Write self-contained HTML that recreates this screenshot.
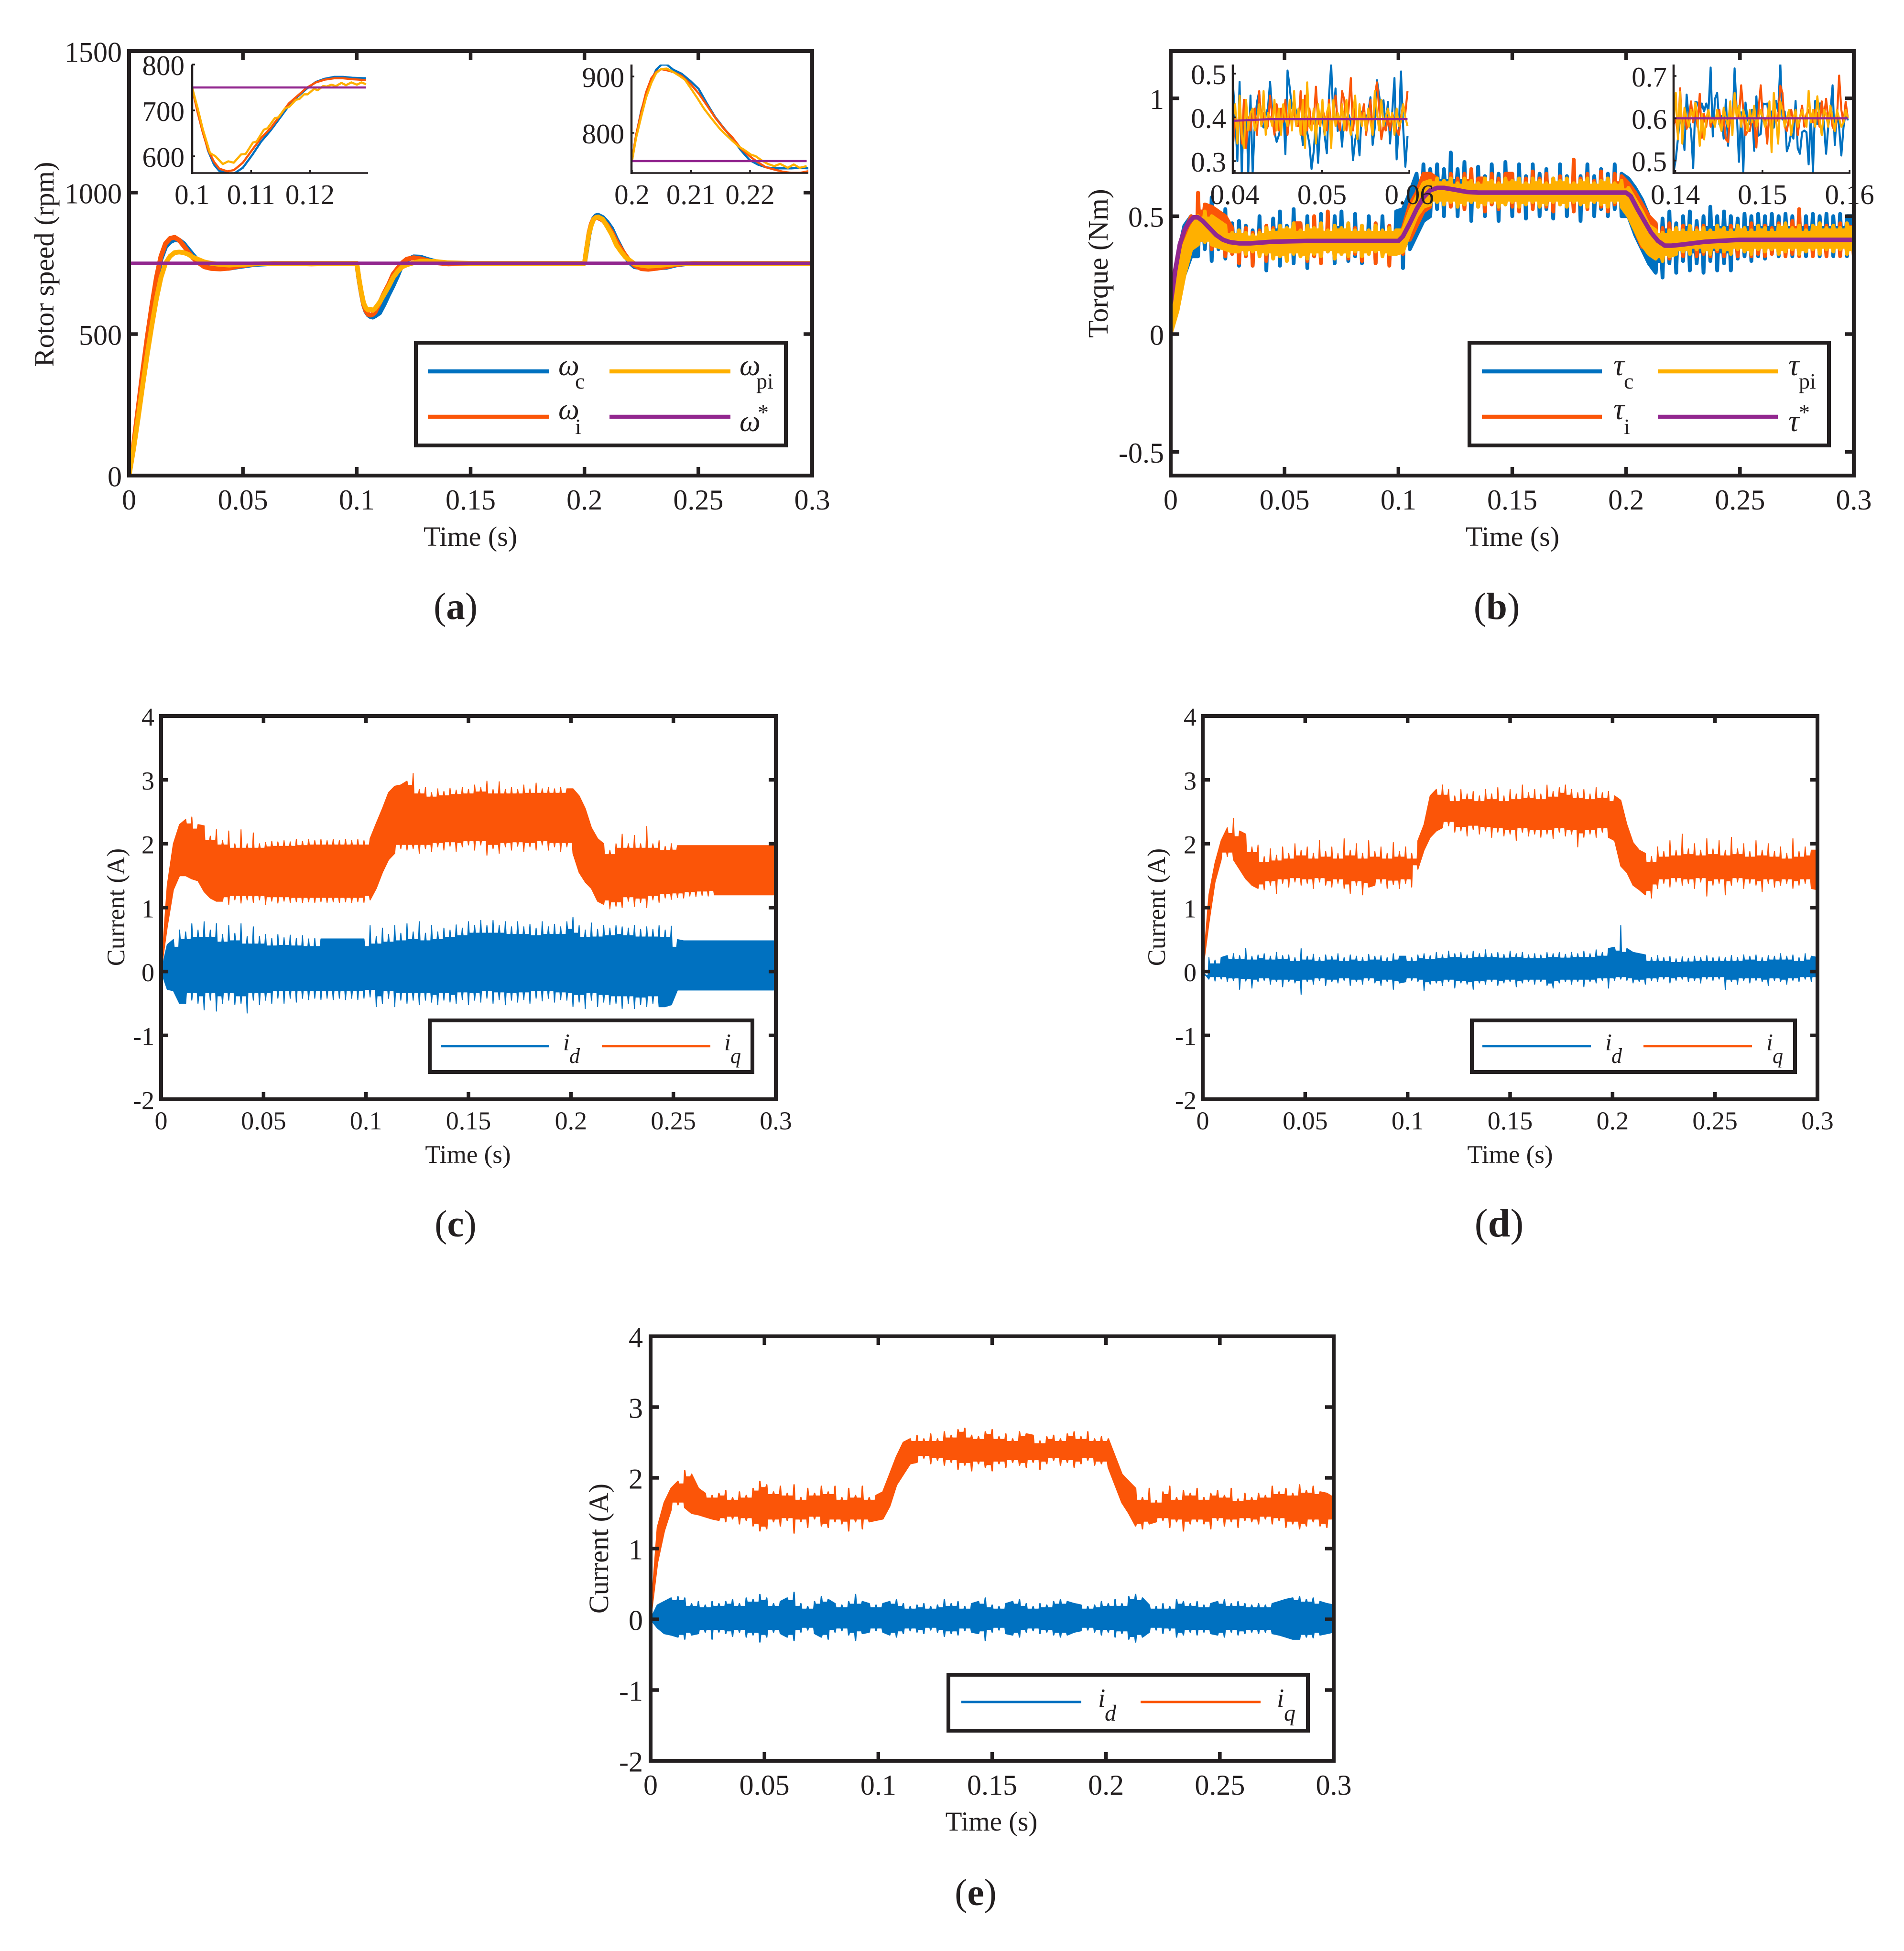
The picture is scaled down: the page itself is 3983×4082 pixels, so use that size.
<!DOCTYPE html>
<html lang="en">
<head>
<meta charset="utf-8">
<title>Motor control response charts</title>
<style>
html,body{margin:0;padding:0;background:#fff;}
svg{display:block;}
text{font-family:"Liberation Serif","Times New Roman",serif;fill:#231F20;}
</style>
</head>
<body>
<svg id="figure" width="3983" height="4082" viewBox="0 0 3983 4082">
<rect x="0" y="0" width="3983" height="4082" fill="#ffffff"/>
<defs>
<clipPath id="clip-a"><rect x="270" y="107" width="1429" height="888"/></clipPath>
<clipPath id="clip-b"><rect x="2449" y="107" width="1429" height="888"/></clipPath>
<clipPath id="clip-c"><rect x="337" y="1498" width="1286" height="802"/></clipPath>
<clipPath id="clip-d"><rect x="2516" y="1498" width="1286" height="802"/></clipPath>
<clipPath id="clip-e"><rect x="1361" y="2796" width="1429" height="888"/></clipPath>
<clipPath id="clip-a1"><rect x="402" y="135" width="368" height="227"/></clipPath>
<clipPath id="clip-a2"><rect x="1321" y="135" width="370" height="227"/></clipPath>
<clipPath id="clip-b1"><rect x="2579" y="135" width="370" height="227"/></clipPath>
<clipPath id="clip-b2"><rect x="3501" y="135" width="370" height="227"/></clipPath>
</defs>

<g id="panel-a"></g>
<g>
<rect x="870" y="717" width="774" height="215" fill="#fff" stroke="#231F20" stroke-width="8"/>
<line x1="895" x2="1149" y1="777" y2="777" stroke="#0071C0" stroke-width="8.5"/>
<line x1="895" x2="1149" y1="872" y2="872" stroke="#FB5508" stroke-width="8.5"/>
<line x1="1275" x2="1528" y1="777" y2="777" stroke="#FFB000" stroke-width="8.5"/>
<line x1="1275" x2="1528" y1="872" y2="872" stroke="#92278F" stroke-width="8.5"/>
<text x="1168" y="785" font-size="62" font-style="italic">ω</text>
<text x="1203" y="813" font-size="46">c</text>
<text x="1168" y="877" font-size="62" font-style="italic">ω</text>
<text x="1203" y="908" font-size="46">i</text>
<text x="1547" y="785" font-size="62" font-style="italic">ω</text>
<text x="1582" y="813" font-size="46">pi</text>
<text x="1547" y="902" font-size="62" font-style="italic">ω</text>
<text x="1585" y="878" font-size="46">*</text>
</g>
<text x="112" y="553" transform="rotate(-90 112 553)" font-size="58.5" text-anchor="middle">Rotor speed (rpm)</text>
<text x="984" y="1142" font-size="58" text-anchor="middle">Time (s)</text>
<text x="953" y="1295" font-size="79" text-anchor="middle">(<tspan font-weight="bold">a</tspan>)</text>

<g id="panel-b"></g>
<g>
<rect x="3074" y="717" width="752" height="215" fill="#fff" stroke="#231F20" stroke-width="8"/>
<line x1="3100" x2="3351" y1="777" y2="777" stroke="#0071C0" stroke-width="8.5"/>
<line x1="3100" x2="3351" y1="872" y2="872" stroke="#FB5508" stroke-width="8.5"/>
<line x1="3468" x2="3719" y1="777" y2="777" stroke="#FFB000" stroke-width="8.5"/>
<line x1="3468" x2="3719" y1="872" y2="872" stroke="#92278F" stroke-width="8.5"/>
<text x="3375" y="785" font-size="64" font-style="italic">τ</text>
<text x="3397" y="813" font-size="46">c</text>
<text x="3375" y="877" font-size="64" font-style="italic">τ</text>
<text x="3397" y="908" font-size="46">i</text>
<text x="3741" y="785" font-size="64" font-style="italic">τ</text>
<text x="3763" y="813" font-size="46">pi</text>
<text x="3741" y="902" font-size="64" font-style="italic">τ</text>
<text x="3763" y="878" font-size="46">*</text>
</g>
<text x="2317" y="551" transform="rotate(-90 2317 551)" font-size="59.5" text-anchor="middle">Torque (Nm)</text>
<text x="3164" y="1142" font-size="58" text-anchor="middle">Time (s)</text>
<text x="3131" y="1295" font-size="79" text-anchor="middle">(<tspan font-weight="bold">b</tspan>)</text>

<g id="panel-c"></g>
<g>
<rect x="899" y="2135" width="675" height="108" fill="#fff" stroke="#231F20" stroke-width="8"/>
<line x1="922" x2="1149" y1="2189" y2="2189" stroke="#0071C0" stroke-width="4.5"/>
<line x1="1259" x2="1486" y1="2189" y2="2189" stroke="#FB5508" stroke-width="4.5"/>
<text x="1178" y="2197" font-size="50" font-style="italic">i</text>
<text x="1191" y="2224" font-size="44" font-style="italic">d</text>
<text x="1515" y="2197" font-size="50" font-style="italic">i</text>
<text x="1528" y="2224" font-size="44" font-style="italic">q</text>
</g>
<text x="260" y="1898" transform="rotate(-90 260 1898)" font-size="52.5" text-anchor="middle">Current (A)</text>
<text x="979" y="2433" font-size="53" text-anchor="middle">Time (s)</text>
<text x="953" y="2587" font-size="79" text-anchor="middle">(<tspan font-weight="bold">c</tspan>)</text>

<g id="panel-d"></g>
<g>
<rect x="3079" y="2135" width="676" height="108" fill="#fff" stroke="#231F20" stroke-width="8"/>
<line x1="3101" x2="3328" y1="2189" y2="2189" stroke="#0071C0" stroke-width="4.5"/>
<line x1="3438" x2="3665" y1="2189" y2="2189" stroke="#FB5508" stroke-width="4.5"/>
<text x="3358" y="2197" font-size="50" font-style="italic">i</text>
<text x="3371" y="2224" font-size="44" font-style="italic">d</text>
<text x="3695" y="2197" font-size="50" font-style="italic">i</text>
<text x="3708" y="2224" font-size="44" font-style="italic">q</text>
</g>
<text x="2437" y="1898" transform="rotate(-90 2437 1898)" font-size="52.5" text-anchor="middle">Current (A)</text>
<text x="3159" y="2433" font-size="53" text-anchor="middle">Time (s)</text>
<text x="3136" y="2587" font-size="84" text-anchor="middle">(<tspan font-weight="bold">d</tspan>)</text>

<g id="panel-e"></g>
<g>
<rect x="1984" y="3504" width="752" height="117" fill="#fff" stroke="#231F20" stroke-width="8"/>
<line x1="2011" x2="2262" y1="3561" y2="3561" stroke="#0071C0" stroke-width="5"/>
<line x1="2386" x2="2637" y1="3561" y2="3561" stroke="#FB5508" stroke-width="5"/>
<text x="2297" y="3571" font-size="55" font-style="italic">i</text>
<text x="2311" y="3600" font-size="48" font-style="italic">d</text>
<text x="2671" y="3571" font-size="55" font-style="italic">i</text>
<text x="2686" y="3600" font-size="48" font-style="italic">q</text>
</g>
<text x="1272" y="3240" transform="rotate(-90 1272 3240)" font-size="58" text-anchor="middle">Current (A)</text>
<text x="2074" y="3830" font-size="57" text-anchor="middle">Time (s)</text>
<text x="2041" y="3986" font-size="79" text-anchor="middle">(<tspan font-weight="bold">e</tspan>)</text>
</svg>

<script>
/* ---------- tick arrays ---------- */
const timeTicks = [0,0.05,0.1,0.15,0.2,0.25,0.3];
const timeTickLabels = ['0','0.05','0.1','0.15','0.2','0.25','0.3'];
const speedTicks = [0,500,1000,1500];
const speedTickLabels = ['0','500','1000','1500'];
const torqueTicks = [-0.5,0,0.5,1];
const torqueTickLabels = ['-0.5','0','0.5','1'];
const currentTicks = [-2,-1,0,1,2,3,4];
const currentTickLabels = ['-2','-1','0','1','2','3','4'];
const insetA1XTicks = [0.1,0.11,0.12];
const insetA1XLabels = ['0.1','0.11','0.12'];
const insetA1YTicks = [600,700,800];
const insetA1YLabels = ['600','700','800'];
const insetA2XTicks = [0.2,0.21,0.22];
const insetA2XLabels = ['0.2','0.21','0.22'];
const insetA2YTicks = [800,900];
const insetA2YLabels = ['800','900'];
const insetB1XTicks = [0.04,0.05,0.06];
const insetB1XLabels = ['0.04','0.05','0.06'];
const insetB1YTicks = [0.3,0.4,0.5];
const insetB1YLabels = ['0.3','0.4','0.5'];
const insetB2XTicks = [0.14,0.15,0.16];
const insetB2XLabels = ['0.14','0.15','0.16'];
const insetB2YTicks = [0.5,0.6,0.7];
const insetB2YLabels = ['0.5','0.6','0.7'];

/* ---------- panel (a) rotor speed ---------- */
const speedTimes = [0,.002,.004,.006,.008,.01,.012,.014,.016,.018,
.02,.022,.024,.026,.028,.03,.033,.036,.04,.044,
.048,.055,.065,.08,.095,.1,.101,.102,.103,.104,
.105,.106,.107,.108,.11,.112,.114,.116,.118,.12,
.122,.125,.128,.131,.135,.14,.15,.17,.19,.2,
.201,.202,.203,.204,.205,.206,.208,.21,.212,.214,
.216,.218,.22,.222,.225,.228,.232,.236,.24,.245,
.25,.26,.28,.3];
const speedBlue = [0,105,230,355,475,585,685,765,808,826,
834,832,820,800,780,762,742,734,732,733,
738,746,750,749,750,750,692,644,604,580,
568,562,560,564,575,605,640,672,708,748,
762,773,772,764,755,750,750,750,750,750,
800,852,888,908,918,920,912,895,872,836,
805,775,752,738,735,735,734,736,744,749,
750,750,750,750];
const speedOrange = [0,110,240,370,490,600,700,775,820,838,
842,832,812,790,770,755,738,732,730,733,
740,748,750,748,750,750,693,645,605,582,
570,567,570,577,610,645,675,712,733,752,
765,770,766,760,752,748,750,750,750,750,
805,858,890,906,913,911,903,885,860,828,
802,778,757,743,731,729,733,738,746,749,
750,750,750,750];
const speedYellow = [0,95,205,320,430,530,625,700,750,775,
788,790,788,782,772,765,755,750,746,744,
746,748,750,750,750,750,695,648,610,592,
585,588,584,590,612,640,668,700,722,738,
745,752,758,758,756,752,750,750,750,750,
805,855,885,905,912,914,906,880,852,815,
792,772,760,748,743,740,742,745,748,749,
750,750,750,750];
const speedRefTimes = [0,0.3];
const speedRefValues = [750,750];

const insetA1Times = [.1,.1009,.1018,.1027,.1037,.1046,.106,.1071,.1086,.1102,.1117,.1133,.1148,.1164,.1179,.1194,.121,.1225,.1241,.1256,.1272,.1295];
const insetA1Blue = [750,700,655,612,582,568,563,562,575,603,632,656,682,710,730,747,762,769,773,773,771,770];
const insetA1Orange = [749,697,652,614,588,573,567,570,586,614,640,661,687,715,732,749,761,767,770,770,768,766];
const insetA1YellowTimes = [.1,.10087,.1018,.10303,.10396,.1052,.10613,.10706,.1083,.10907,.11031,.11093,.11217,.11279,.11402,.11464,.11573,.1165,.11759,.11821,.11898,.1196,.12068,.1213,.12223,.12285,.12362,.1244,.12533,.1261,.12703,.12796,.12873,.1295];
const insetA1Yellow = [749,708,659,607,600,583,589,586,604,605,630,632,658,661,683,685,704,708,723,725,735,735,747,744,753,752,756,753,760,755,761,756,761,757];
const insetA1RefTimes = [.1,.1295];
const insetA1RefValues = [750,750];

const insetA2Times = [.2,.2007,.2016,.2024,.2033,.2041,.205,.2059,.207,.2084,.2099,.2113,.2127,.2141,.2156,.217,.2184,.2199,.2213,.2227,.2241,.2256,.227,.2284,.2299];
const insetA2Blue = [750,795,840,868,892,912,921,921,912,905,892,878,852,828,808,790,770,752,744,739,737,737,737,738,737];
const insetA2Orange = [750,796,838,872,897,908,913,911,908,901,887,870,849,827,807,792,773,759,748,739,735,731,729,729,732];
const insetA2YellowTimes = [.2,.2007,.2016,.2024,.2033,.2041,.2049,.2059,.207,.2082,.209,.2099,.211,.2122,.2136,.2149,.216,.217,.2182,.219,.2202,.2209,.222,.223,.2241,.2251,.2264,.2274,.2284,.2296];
const insetA2Yellow = [750,791,830,863,889,906,913,914,908,900,894,880,863,843,824,807,796,786,775,770,761,759,751,745,741,745,738,744,738,741];
const insetA2RefTimes = [.2,.2296];
const insetA2RefValues = [750,750];

/* ---------- noisy signals: sampled upper / lower envelopes, one value per bin ---------- */
const envelopeBinSeconds = 0.003;

const torqueBlueHi = [.02,.33,.46,.50,.58,.52,.58,.50,.53,.47,
.48,.46,.44,.50,.45,.49,.52,.46,.53,.47,
.50,.47,.51,.46,.50,.52,.47,.51,.46,.50,
.47,.50,.46,.52,.53,.60,.68,.72,.70,.72,
.70,.77,.70,.73,.68,.71,.67,.72,.68,.73,
.68,.72,.67,.72,.68,.70,.66,.72,.67,.70,
.67,.72,.67,.70,.68,.72,.68,.66,.62,.57,
.50,.47,.49,.52,.47,.50,.52,.48,.50,.54,
.50,.52,.50,.49,.51,.50,.51,.50,.51,.50,
.51,.50,.51,.50,.51,.50,.51,.50,.51,.50,
.50];
const torqueBlueLo = [0,.12,.25,.33,.33,.36,.31,.36,.32,.34,
.29,.33,.29,.34,.27,.33,.29,.34,.30,.34,
.28,.33,.31,.35,.30,.34,.31,.33,.30,.34,
.30,.35,.30,.34,.28,.36,.42,.48,.50,.53,
.50,.55,.50,.54,.48,.54,.50,.55,.48,.55,
.50,.54,.49,.55,.50,.53,.49,.55,.50,.53,
.48,.55,.50,.53,.50,.53,.50,.50,.42,.36,
.30,.26,.24,.30,.26,.31,.27,.30,.26,.31,
.27,.30,.27,.32,.33,.31,.33,.32,.34,.33,
.34,.33,.34,.33,.34,.33,.34,.33,.34,.33,
.34];
const torqueOrangeHi = [.03,.30,.44,.50,.60,.55,.54,.52,.50,.45,
.44,.45,.43,.44,.46,.45,.46,.44,.47,.47,
.44,.50,.46,.52,.44,.44,.46,.45,.43,.44,
.47,.44,.46,.44,.45,.55,.60,.68,.68,.66,
.65,.68,.66,.68,.70,.66,.66,.68,.66,.68,
.68,.65,.66,.69,.66,.68,.65,.67,.66,.74,
.66,.68,.65,.69,.66,.68,.67,.64,.60,.55,
.50,.47,.45,.47,.45,.46,.44,.45,.46,.44,
.45,.44,.46,.44,.45,.47,.44,.46,.45,.47,
.46,.48,.53,.46,.45,.47,.46,.45,.47,.46,
.45];
const torqueOrangeLo = [0,.15,.30,.38,.40,.40,.36,.38,.33,.34,
.30,.33,.29,.34,.31,.35,.34,.35,.36,.34,
.31,.33,.30,.35,.32,.35,.32,.34,.31,.34,
.30,.35,.29,.35,.34,.40,.46,.52,.54,.56,
.55,.54,.55,.53,.56,.54,.52,.55,.53,.56,
.54,.52,.55,.53,.56,.54,.52,.55,.54,.52,
.55,.53,.56,.54,.52,.55,.54,.52,.44,.37,
.37,.33,.34,.32,.34,.33,.35,.33,.34,.33,
.35,.33,.34,.33,.35,.33,.34,.33,.34,.35,
.33,.34,.33,.35,.33,.34,.33,.35,.33,.34,
.33];
const torqueYellowHi = [.02,.25,.38,.45,.50,.52,.50,.48,.46,.43,
.44,.43,.42,.43,.45,.44,.46,.45,.47,.44,
.46,.45,.47,.44,.46,.45,.47,.44,.46,.44,
.46,.44,.45,.44,.44,.52,.58,.64,.65,.66,
.65,.66,.64,.66,.65,.64,.66,.65,.64,.66,
.65,.66,.64,.66,.65,.64,.66,.65,.66,.64,
.65,.66,.64,.65,.66,.64,.65,.62,.57,.52,
.46,.44,.43,.44,.45,.44,.46,.44,.45,.44,
.46,.45,.44,.46,.45,.44,.46,.45,.44,.46,
.47,.45,.46,.44,.46,.47,.45,.46,.45,.47,
.46];
const torqueYellowLo = [0,.10,.25,.36,.38,.39,.38,.37,.36,.35,
.35,.34,.35,.33,.34,.32,.33,.31,.34,.33,
.32,.34,.33,.35,.32,.34,.33,.35,.33,.34,
.35,.33,.34,.34,.35,.43,.50,.54,.55,.56,
.55,.56,.54,.55,.56,.54,.55,.56,.54,.55,
.56,.54,.55,.56,.54,.55,.56,.55,.54,.56,
.55,.54,.56,.55,.54,.56,.54,.50,.44,.38,
.34,.32,.31,.33,.34,.35,.34,.36,.35,.34,
.36,.35,.34,.36,.35,.34,.36,.35,.36,.34,
.35,.36,.34,.35,.36,.34,.36,.35,.36,.34,
.35];
const torqueRefTimes = [0,.002,.004,.006,.008,.01,.012,.014,.017,.02,.023,.026,.03,.035,.045,.06,.1,.102,.105,.108,.111,.114,.117,.12,.125,.13,.135,.15,.2,.202,.205,.208,.211,.214,.217,.22,.225,.235,.25,.3];
const torqueRefValues = [.13,.27,.38,.44,.475,.495,.495,.48,.45,.42,.40,.39,.385,.385,.392,.395,.395,.415,.47,.53,.58,.61,.62,.62,.612,.603,.60,.60,.60,.585,.53,.48,.43,.395,.375,.375,.38,.392,.40,.40];

const insetSampleSeconds = 0.00025;
const insetB1Blue = [.472,.402,.300,.481,.272,.424,.439,.272,.450,.272,
.388,.435,.459,.384,.377,.406,.421,.481,.413,.366,
.344,.359,.380,.428,.316,.507,.468,.421,.432,.413,
.402,.391,.337,.402,.366,.340,.282,.322,.395,.296,
.384,.402,.359,.318,.450,.521,.395,.466,.369,.395,
.333,.413,.384,.406,.391,.302,.349,.369,.313,.413,
.406,.395,.413,.446,.337,.377,.485,.450,.413,.439,
.377,.435,.340,.413,.490,.304,.377,.505,.377,.287,
.357];
const insetB1Orange = [.335,.40,.37,.42,.34,.44,.33,.40,.37,.41,
.42,.36,.46,.38,.41,.37,.38,.45,.40,.36,
.43,.37,.42,.39,.44,.36,.41,.39,.42,.38,
.38,.46,.36,.45,.37,.42,.38,.39,.47,.39,
.38,.42,.40,.37,.44,.36,.42,.45,.39,.37,
.46,.44,.37,.42,.49,.37,.42,.38,.41,.40,
.43,.36,.40,.44,.36,.45,.48,.42,.35,.38,
.37,.40,.37,.41,.39,.37,.36,.40,.43,.41,
.46];
const insetB1Yellow = [.40,.43,.34,.45,.36,.33,.44,.37,.41,.42,
.37,.39,.43,.38,.46,.36,.41,.40,.38,.44,
.37,.42,.36,.43,.40,.38,.44,.37,.46,.38,
.42,.36,.44,.33,.48,.38,.37,.42,.34,.43,
.38,.44,.36,.41,.43,.33,.44,.38,.41,.39,
.43,.37,.44,.39,.36,.41,.45,.35,.43,.38,
.41,.37,.42,.39,.36,.46,.41,.37,.44,.38,
.40,.42,.39,.41,.36,.42,.38,.39,.43,.40,
.38];
const insetB1RefTimes = [.0398,.044,.0598];
const insetB1RefValues = [.392,.396,.396];
const insetB2Blue = [.472,.503,.552,.605,.578,.525,.656,.597,.571,.482,
.639,.637,.616,.635,.616,.635,.616,.720,.557,.646,
.660,.586,.605,.552,.644,.535,.616,.571,.718,.616,
.497,.614,.472,.637,.597,.586,.620,.523,.652,.559,
.563,.635,.633,.635,.586,.616,.578,.641,.616,.728,
.597,.616,.522,.537,.567,.552,.641,.529,.516,.567,
.571,.567,.491,.609,.472,.641,.586,.635,.635,.586,
.516,.580,.616,.678,.537,.616,.578,.512,.578,.616,
.595];
const insetB2Orange = [.585,.60,.56,.671,.56,.62,.575,.60,.64,.59,
.62,.58,.658,.554,.61,.58,.62,.58,.60,.59,
.60,.62,.57,.60,.55,.544,.61,.59,.658,.62,
.60,.678,.62,.56,.57,.57,.60,.59,.531,.62,
.678,.60,.60,.54,.62,.58,.62,.59,.60,.677,
.66,.58,.57,.60,.62,.59,.62,.56,.60,.63,
.58,.61,.62,.60,.59,.62,.61,.58,.64,.60,
.646,.60,.62,.58,.57,.60,.701,.62,.59,.639,
.60];
const insetB2Yellow = [.59,.66,.55,.662,.54,.625,.60,.58,.62,.60,
.637,.60,.535,.61,.55,.60,.62,.59,.60,.58,
.62,.59,.57,.625,.60,.58,.64,.56,.66,.60,
.63,.58,.62,.60,.57,.62,.59,.63,.58,.60,
.62,.60,.58,.60,.64,.52,.66,.60,.54,.64,
.62,.58,.60,.62,.56,.60,.62,.58,.60,.62,
.60,.58,.665,.59,.62,.58,.652,.60,.56,.62,
.61,.58,.63,.60,.57,.62,.60,.58,.59,.62,
.60];
const insetB2RefTimes = [.1398,.1598];
const insetB2RefValues = [.60,.60];

/* panel (c) */
const currentCIqHi = [0,1.35,2.00,2.30,2.38,2.42,2.30,2.28,2.12,2.22,
2.05,2.20,2.00,2.22,2.00,2.17,2.00,2.02,2.04,2.03,
2.05,2.03,2.07,2.04,2.07,2.05,2.07,2.05,2.07,2.05,
2.07,2.05,2.07,2.05,2.08,2.32,2.55,2.80,2.90,2.92,
2.98,3.10,2.85,2.88,2.80,2.86,2.82,2.87,2.84,2.88,
2.85,2.92,2.88,2.98,2.85,2.97,2.85,2.88,2.85,2.92,
2.86,2.95,2.86,2.88,2.86,2.88,2.86,2.86,2.75,2.55,
2.25,2.08,2.00,1.90,2.00,2.15,2.00,2.13,2.00,2.27,
2.00,2.05,1.96,2.00,1.97,1.97,1.97,1.97,1.97,1.97,
1.97,1.97,1.97,1.97,1.97,1.97,1.97,1.97,1.97,1.97,
1.97];
const currentCIqLo = [0,.70,1.28,1.50,1.50,1.45,1.42,1.25,1.15,1.10,
1.10,1.05,1.12,1.07,1.12,1.08,1.12,1.05,1.10,1.07,
1.10,1.08,1.09,1.08,1.09,1.08,1.09,1.08,1.09,1.08,
1.09,1.08,1.09,1.08,1.12,1.30,1.55,1.75,1.85,1.92,
1.90,1.92,1.85,1.92,1.88,1.95,1.90,1.96,1.88,1.95,
1.98,1.90,1.98,1.82,1.92,1.85,1.95,1.90,1.96,1.88,
1.95,1.90,1.98,1.90,1.95,1.88,1.95,1.85,1.55,1.40,
1.30,1.10,1.05,.98,1.02,1.00,1.10,1.02,1.08,1.00,
1.12,1.08,1.15,1.13,1.16,1.15,1.18,1.17,1.19,1.18,
1.20,1.20,1.20,1.20,1.20,1.20,1.20,1.20,1.20,1.20,
1.20];
const currentCIdHi = [0,.42,.50,.65,.62,.75,.65,.78,.65,.75,
.58,.72,.60,.75,.55,.70,.55,.58,.52,.58,
.53,.57,.52,.56,.51,.52,.51,.51,.51,.51,
.51,.51,.51,.51,.72,.55,.68,.58,.72,.60,
.75,.62,.78,.60,.72,.62,.68,.65,.73,.68,
.78,.72,.80,.72,.80,.72,.78,.70,.78,.70,
.74,.68,.78,.70,.74,.70,.78,.85,.72,.65,
.76,.66,.72,.68,.72,.70,.68,.72,.66,.70,
.66,.72,.65,.71,.50,.48,.48,.48,.48,.48,
.48,.48,.48,.48,.48,.48,.48,.48,.48,.48,
.48];
const currentCIdLo = [0,-.28,-.30,-.50,-.50,-.45,-.50,-.60,-.45,-.62,
-.50,-.45,-.52,-.50,-.65,-.45,-.52,-.45,-.50,-.42,
-.50,-.42,-.48,-.42,-.44,-.42,-.44,-.42,-.44,-.42,
-.44,-.42,-.44,-.42,-.40,-.55,-.50,-.42,-.55,-.45,
-.50,-.45,-.52,-.45,-.48,-.52,-.45,-.48,-.50,-.44,
-.52,-.45,-.48,-.42,-.50,-.44,-.52,-.45,-.48,-.44,
-.50,-.42,-.46,-.42,-.48,-.44,-.45,-.55,-.48,-.58,
-.45,-.55,-.48,-.52,-.50,-.58,-.50,-.58,-.52,-.55,
-.50,-.55,-.55,-.52,-.29,-.29,-.29,-.29,-.29,-.29,
-.29,-.29,-.29,-.29,-.29,-.29,-.29,-.29,-.29,-.29,
-.29];

/* panel (d) */
const currentDIqHi = [0,1.20,1.70,2.05,2.25,2.40,2.20,2.15,1.95,1.98,
1.80,1.92,1.82,1.95,1.85,2.00,1.90,1.95,1.85,2.05,
1.88,1.95,1.85,2.08,1.90,2.00,1.85,2.05,1.88,1.95,
1.85,2.02,1.88,1.95,1.85,2.05,2.30,2.75,2.85,2.92,
2.85,2.75,2.85,2.78,2.82,2.75,2.85,2.78,2.88,2.75,
2.85,2.78,2.92,2.80,2.85,2.78,2.92,2.82,2.88,2.92,
2.85,2.80,2.85,2.78,2.88,2.80,2.82,2.75,2.68,2.30,
2.02,1.90,1.85,1.80,1.95,1.88,2.05,1.90,2.15,1.92,
2.00,1.90,2.08,1.92,2.05,1.90,2.10,1.92,2.00,1.88,
2.05,1.90,2.00,1.88,1.95,1.85,2.08,1.88,1.95,1.90,
1.90];
const currentDIqLo = [0,.75,1.40,1.75,1.80,1.75,1.60,1.45,1.35,1.30,
1.28,1.35,1.22,1.38,1.32,1.40,1.35,1.38,1.30,1.40,
1.35,1.32,1.38,1.30,1.22,1.35,1.20,1.32,1.35,1.38,
1.30,1.36,1.30,1.38,1.32,1.60,1.90,2.10,2.20,2.25,
2.28,2.18,2.20,2.12,2.22,2.15,2.20,2.10,2.18,2.12,
2.15,2.05,2.18,2.12,2.15,2.10,2.15,2.08,2.18,2.12,
2.15,1.95,2.10,2.15,2.10,2.18,2.10,2.05,1.65,1.55,
1.35,1.28,1.20,1.15,1.30,1.38,1.32,1.40,1.35,1.38,
1.30,1.40,1.18,1.35,1.38,1.20,1.35,1.40,1.30,1.38,
1.35,1.25,1.38,1.32,1.35,1.38,1.30,1.35,1.38,1.30,
1.28];
const currentDIdHi = [0,.22,.18,.22,.25,.28,.25,.36,.24,.26,
.28,.24,.30,.25,.26,.22,.36,.24,.27,.22,
.26,.24,.28,.22,.26,.24,.22,.27,.24,.25,
.22,.28,.24,.24,.22,.26,.28,.25,.30,.26,
.32,.28,.30,.26,.32,.28,.34,.28,.30,.27,
.32,.28,.30,.26,.28,.26,.30,.28,.30,.27,
.30,.28,.32,.28,.34,.30,.36,.38,.72,.36,
.30,.28,.26,.22,.25,.22,.24,.20,.23,.21,
.24,.22,.25,.22,.23,.22,.25,.22,.26,.24,
.26,.22,.25,.24,.28,.24,.26,.22,.28,.24,
.22];
const currentDIdLo = [0,-.12,-.15,-.12,-.16,-.14,-.28,-.15,-.26,-.16,
-.14,-.20,-.16,-.24,-.16,-.18,-.36,-.16,-.20,-.14,
-.22,-.16,-.18,-.14,-.22,-.16,-.20,-.14,-.18,-.22,
-.16,-.28,-.18,-.16,-.14,-.16,-.30,-.20,-.18,-.22,
-.16,-.26,-.18,-.20,-.28,-.18,-.20,-.16,-.22,-.18,
-.16,-.24,-.18,-.16,-.20,-.16,-.22,-.26,-.18,-.16,
-.20,-.16,-.24,-.16,-.18,-.14,-.26,-.14,-.12,-.14,
-.18,-.16,-.20,-.14,-.16,-.12,-.18,-.14,-.12,-.16,
-.14,-.18,-.12,-.14,-.12,-.28,-.16,-.20,-.14,-.18,
-.14,-.16,-.22,-.14,-.16,-.20,-.14,-.16,-.12,-.16,
-.12];

/* panel (e) */
const currentEIqHi = [0,1.30,1.65,1.85,1.95,2.10,2.05,1.85,1.78,1.75,
1.78,1.82,1.72,1.80,1.75,1.85,1.95,1.90,1.80,1.88,
1.78,1.90,1.72,1.85,1.78,1.88,1.80,1.88,1.72,1.85,
1.75,1.88,1.72,1.75,1.80,2.05,2.30,2.50,2.55,2.60,
2.55,2.62,2.55,2.65,2.60,2.68,2.70,2.60,2.58,2.65,
2.68,2.58,2.62,2.55,2.65,2.62,2.60,2.52,2.58,2.60,
2.55,2.62,2.65,2.58,2.65,2.55,2.58,2.55,2.30,2.05,
1.95,1.85,1.72,1.85,1.68,1.80,1.88,1.72,1.82,1.78,
1.85,1.72,1.78,1.82,1.75,1.85,1.70,1.78,1.72,1.78,
1.75,1.88,1.80,1.85,1.78,1.90,1.82,1.88,1.80,1.78,
1.72];
const currentEIqLo = [0,.80,1.25,1.55,1.62,1.58,1.50,1.48,1.45,1.42,
1.40,1.38,1.42,1.35,1.40,1.32,1.25,1.28,1.38,1.32,
1.40,1.22,1.38,1.30,1.42,1.32,1.30,1.38,1.35,1.25,
1.38,1.28,1.38,1.40,1.42,1.60,1.90,2.05,2.20,2.22,
2.28,2.20,2.25,2.18,2.22,2.12,2.18,2.10,2.20,2.15,
2.10,2.20,2.15,2.22,2.18,2.15,2.22,2.12,2.20,2.25,
2.18,2.22,2.15,2.20,2.25,2.18,2.20,2.15,1.90,1.65,
1.50,1.32,1.28,1.35,1.38,1.40,1.30,1.38,1.25,1.35,
1.38,1.35,1.28,1.40,1.32,1.38,1.30,1.40,1.38,1.35,
1.42,1.35,1.40,1.30,1.35,1.28,1.32,1.38,1.32,1.30,
1.38];
const currentEIdHi = [0,.20,.25,.30,.32,.30,.22,.25,.20,.25,
.22,.25,.28,.22,.30,.28,.35,.30,.22,.25,
.30,.38,.22,.18,.25,.32,.28,.22,.20,.25,
.35,.25,.22,.20,.22,.25,.28,.22,.18,.20,
.22,.18,.20,.28,.22,.25,.18,.22,.25,.30,
.20,.18,.22,.25,.28,.22,.18,.22,.20,.25,
.28,.25,.22,.20,.18,.20,.25,.22,.28,.22,
.32,.35,.30,.20,.18,.22,.18,.28,.25,.22,
.25,.20,.22,.25,.28,.22,.25,.22,.20,.22,
.20,.22,.25,.28,.30,.32,.28,.30,.25,.22,
.20];
const currentEIdLo = [0,-.12,-.20,-.22,-.25,-.28,-.22,-.20,-.18,-.28,
-.18,-.20,-.24,-.18,-.25,-.22,-.32,-.25,-.18,-.20,
-.25,-.30,-.18,-.15,-.20,-.25,-.28,-.18,-.16,-.22,
-.30,-.20,-.18,-.16,-.18,-.22,-.25,-.20,-.16,-.18,
-.20,-.15,-.18,-.24,-.20,-.22,-.16,-.18,-.20,-.30,
-.18,-.15,-.20,-.22,-.25,-.18,-.16,-.20,-.18,-.22,
-.25,-.22,-.18,-.16,-.15,-.18,-.22,-.18,-.25,-.20,
-.28,-.32,-.25,-.18,-.15,-.20,-.16,-.25,-.22,-.18,
-.22,-.18,-.20,-.22,-.25,-.18,-.22,-.20,-.18,-.20,
-.18,-.20,-.22,-.25,-.28,-.28,-.25,-.26,-.22,-.20,
-.18];

/* ---------- drawing ---------- */
const svg = document.getElementById('figure');
const INK = '#231F20', BLUE = '#0071C0', ORANGE = '#FB5508', YELLOW = '#FFB000', PURPLE = '#92278F';

function addNode(parent, tag, attrs, name) {
  const el = document.createElementNS(svg.namespaceURI, tag);
  for (const key in attrs) el.setAttribute(key, attrs[key]);
  
  
  parent.appendChild(el);
  return el;
}
function linearScale(d0, d1, r0, r1) {
  return function (v) { return r0 + (v - d0) / (d1 - d0) * (r1 - r0); };
}
function f(n) { return n.toFixed(1); }

function drawLine(parent, times, values, sx, sy, color, width, clipId, name) {
  const n = Math.min(times.length, values.length);
  const pts = [];
  for (let i = 0; i < n; i++) pts.push(f(sx(times[i])) + ',' + f(sy(values[i])));
  addNode(parent, 'polyline', {points: pts.join(' '), fill: 'none', stroke: color, 'stroke-width': width,
    'stroke-linejoin': 'round', 'clip-path': 'url(#' + clipId + ')'}, name);
}
function drawSampled(parent, t0, step, values, sx, sy, color, width, clipId, name) {
  const times = [];
  for (let i = 0; i < values.length; i++) times.push(t0 + i * step);
  drawLine(parent, times, values, sx, sy, color, width, clipId, name);
}
/* One edge of an envelope. dir=+1 upper edge, dir=-1 lower edge.
   Each bin's extreme is a narrow tooth; a notch drops back toward the core between bins,
   except on monotonic ramps and flat stretches, which connect directly. */
function edgePoints(values, sx, sy, dir, notch) {
  const n = values.length, tooth = 1.6, pts = [];
  for (let i = 0; i < n; i++) {
    const x = sx(i * envelopeBinSeconds);
    pts.push(f(x) + ',' + f(sy(values[i])));
    if (i === n - 1) break;
    const xn = sx((i + 1) * envelopeBinSeconds);
    const a = i > 0 ? values[i - 1] : values[i], b = values[i], c = values[i + 1];
    const d = i + 2 < n ? values[i + 2] : c;
    const rising = a <= b && b <= c && c <= d;
    const falling = a >= b && b >= c && c >= d;
    if (rising || falling || b === c) continue;
    const m = dir > 0 ? Math.min(b, c) - notch : Math.max(b, c) + notch;
    pts.push(f(x + tooth) + ',' + f(sy(m)));
    pts.push(f(xn - tooth) + ',' + f(sy(m)));
  }
  return pts;
}
function drawEnvelope(parent, hi, lo, sx, sy, color, strokeWidth, clipId, name, hiNotch, loNotch) {
  const top = edgePoints(hi, sx, sy, 1, hiNotch);
  const bottom = edgePoints(lo, sx, sy, -1, loNotch).reverse();
  addNode(parent, 'polygon', {points: top.concat(bottom).join(' '), fill: color, stroke: color,
    'stroke-width': strokeWidth, 'stroke-linejoin': 'round', 'clip-path': 'url(#' + clipId + ')'}, name);
}
function drawFrame(parent, box, sx, sy, xTicks, xLabels, yTicks, yLabels, o) {
  addNode(parent, 'rect', {x: box.l, y: box.t, width: box.r - box.l, height: box.b - box.t, fill: 'none',
    stroke: INK, 'stroke-width': 8}, 'axes-frame');
  for (let i = 0; i < xTicks.length; i++) {
    const x = sx(xTicks[i]);
    addNode(parent, 'line', {x1: x, x2: x, y1: box.b, y2: box.b - o.tick, stroke: INK, 'stroke-width': 7.5}, 'x-tick-bottom');
    addNode(parent, 'line', {x1: x, x2: x, y1: box.t, y2: box.t + o.tick, stroke: INK, 'stroke-width': 7.5}, 'x-tick-top');
    const t = addNode(parent, 'text', {x: x, y: o.xBase, 'font-size': o.fs, 'text-anchor': 'middle'}, 'x-tick-label');
    t.textContent = xLabels[i];
  }
  for (let i = 0; i < yTicks.length; i++) {
    const y = sy(yTicks[i]);
    addNode(parent, 'line', {x1: box.l, x2: box.l + o.tick, y1: y, y2: y, stroke: INK, 'stroke-width': 7.5}, 'y-tick-left');
    addNode(parent, 'line', {x1: box.r, x2: box.r - o.tick, y1: y, y2: y, stroke: INK, 'stroke-width': 7.5}, 'y-tick-right');
    const t = addNode(parent, 'text', {x: o.yRight, y: y + 2 + o.fs * 0.338, 'font-size': o.fs, 'text-anchor': 'end'}, 'y-tick-label');
    t.textContent = yLabels[i];
  }
}
function drawInsetAxes(parent, box, sx, sy, xTicks, xLabels, yTicks, yLabels, yRight) {
  addNode(parent, 'line', {x1: box.l, x2: box.l, y1: box.t, y2: box.b + 2, stroke: INK, 'stroke-width': 4.5}, 'inset-y-axis');
  addNode(parent, 'line', {x1: box.l - 2, x2: box.r, y1: box.b, y2: box.b, stroke: INK, 'stroke-width': 3.5}, 'inset-x-axis');
  for (let i = 0; i < xTicks.length; i++) {
    const x = sx(xTicks[i]);
    addNode(parent, 'line', {x1: x, x2: x, y1: box.b, y2: box.b - 6, stroke: INK, 'stroke-width': 3.5}, 'inset-x-tick');
    const t = addNode(parent, 'text', {x: x, y: 427, 'font-size': 59, 'text-anchor': 'middle'}, 'inset-x-tick-label');
    t.textContent = xLabels[i];
  }
  for (let i = 0; i < yTicks.length; i++) {
    const y = sy(yTicks[i]);
    addNode(parent, 'line', {x1: box.l, x2: box.l + 6, y1: y, y2: y, stroke: INK, 'stroke-width': 3.5}, 'inset-y-tick');
    const t = addNode(parent, 'text', {x: yRight, y: y + 2 + 59 * 0.338, 'font-size': 59, 'text-anchor': 'end'}, 'inset-y-tick-label');
    t.textContent = yLabels[i];
  }
}

/* Panel (a) */
(function () {
  const g = document.getElementById('panel-a');
  const box = {l: 270, r: 1699, t: 107, b: 995};
  const sx = linearScale(0, 0.3, box.l, box.r), sy = linearScale(0, 1500, box.b, box.t);
  drawLine(g, speedTimes, speedBlue, sx, sy, BLUE, 10, 'clip-a', 'series-omega-c');
  drawLine(g, speedTimes, speedOrange, sx, sy, ORANGE, 10, 'clip-a', 'series-omega-i');
  drawLine(g, speedTimes, speedYellow, sx, sy, YELLOW, 10, 'clip-a', 'series-omega-pi');
  drawLine(g, speedRefTimes, speedRefValues, sx, sy, PURPLE, 7.5, 'clip-a', 'series-omega-ref');
  drawFrame(g, box, sx, sy, timeTicks, timeTickLabels, speedTicks, speedTickLabels, {tick: 18, fs: 60, xBase: 1066, yRight: 255});

  const b1 = {l: 402, r: 770, t: 135, b: 362};
  const x1 = linearScale(0.1, 0.12986, b1.l, b1.r), y1 = linearScale(563.5, 800, b1.b, b1.t);
  const i1 = addNode(g, 'g', {}, 'inset-speed-dip');
  drawLine(i1, insetA1Times, insetA1Blue, x1, y1, BLUE, 4.5, 'clip-a1', 'inset-series-omega-c');
  drawLine(i1, insetA1Times, insetA1Orange, x1, y1, ORANGE, 4.5, 'clip-a1', 'inset-series-omega-i');
  drawLine(i1, insetA1YellowTimes, insetA1Yellow, x1, y1, YELLOW, 4.5, 'clip-a1', 'inset-series-omega-pi');
  drawLine(i1, insetA1RefTimes, insetA1RefValues, x1, y1, PURPLE, 4.5, 'clip-a1', 'inset-series-omega-ref');
  drawInsetAxes(i1, b1, x1, y1, insetA1XTicks, insetA1XLabels, insetA1YTicks, insetA1YLabels, 386);

  const b2 = {l: 1321, r: 1691, t: 135, b: 362};
  const x2 = linearScale(0.19992, 0.22988, b2.l, b2.r), y2 = linearScale(728.8, 921.2, b2.b, b2.t);
  const i2 = addNode(g, 'g', {}, 'inset-speed-peak');
  drawLine(i2, insetA2Times, insetA2Blue, x2, y2, BLUE, 4.5, 'clip-a2', 'inset-series-omega-c');
  drawLine(i2, insetA2Times, insetA2Orange, x2, y2, ORANGE, 4.5, 'clip-a2', 'inset-series-omega-i');
  drawLine(i2, insetA2YellowTimes, insetA2Yellow, x2, y2, YELLOW, 4.5, 'clip-a2', 'inset-series-omega-pi');
  drawLine(i2, insetA2RefTimes, insetA2RefValues, x2, y2, PURPLE, 4.5, 'clip-a2', 'inset-series-omega-ref');
  drawInsetAxes(i2, b2, x2, y2, insetA2XTicks, insetA2XLabels, insetA2YTicks, insetA2YLabels, 1306);
})();

/* Panel (b) */
(function () {
  const g = document.getElementById('panel-b');
  const box = {l: 2449, r: 3878, t: 107, b: 995};
  const sx = linearScale(0, 0.3, box.l, box.r), sy = linearScale(-0.6, 1.2, box.b, box.t);
  drawEnvelope(g, torqueBlueHi, torqueBlueLo, sx, sy, BLUE, 8, 'clip-b', 'series-tau-c', 0.05, 0.05);
  drawEnvelope(g, torqueOrangeHi, torqueOrangeLo, sx, sy, ORANGE, 8, 'clip-b', 'series-tau-i', 0.03, 0.03);
  drawEnvelope(g, torqueYellowHi, torqueYellowLo, sx, sy, YELLOW, 8, 'clip-b', 'series-tau-pi', 0.01, 0.01);
  drawLine(g, torqueRefTimes, torqueRefValues, sx, sy, PURPLE, 9.5, 'clip-b', 'series-tau-ref');
  drawFrame(g, box, sx, sy, timeTicks, timeTickLabels, torqueTicks, torqueTickLabels, {tick: 18, fs: 60, xBase: 1066, yRight: 2435});

  const b1 = {l: 2579, r: 2949, t: 135, b: 362};
  const x1 = linearScale(0.03978, 0.06005, b1.l, b1.r), y1 = linearScale(0.2727, 0.5208, b1.b, b1.t);
  const i1 = addNode(g, 'g', {}, 'inset-torque-low');
  drawSampled(i1, 0.0398, insetSampleSeconds, insetB1Blue, x1, y1, BLUE, 4.2, 'clip-b1', 'inset-series-tau-c');
  drawSampled(i1, 0.0398, insetSampleSeconds, insetB1Orange, x1, y1, ORANGE, 4.2, 'clip-b1', 'inset-series-tau-i');
  drawSampled(i1, 0.0398, insetSampleSeconds, insetB1Yellow, x1, y1, YELLOW, 4.2, 'clip-b1', 'inset-series-tau-pi');
  drawLine(i1, insetB1RefTimes, insetB1RefValues, x1, y1, PURPLE, 4.5, 'clip-b1', 'inset-series-tau-ref');
  drawInsetAxes(i1, b1, x1, y1, insetB1XTicks, insetB1XLabels, insetB1YTicks, insetB1YLabels, 2565);

  const b2 = {l: 3501, r: 3871, t: 135, b: 362};
  const x2 = linearScale(0.1398, 0.1601, b2.l, b2.r), y2 = linearScale(0.4706, 0.7271, b2.b, b2.t);
  const i2 = addNode(g, 'g', {}, 'inset-torque-high');
  drawSampled(i2, 0.1398, insetSampleSeconds, insetB2Blue, x2, y2, BLUE, 4.2, 'clip-b2', 'inset-series-tau-c');
  drawSampled(i2, 0.1398, insetSampleSeconds, insetB2Orange, x2, y2, ORANGE, 4.2, 'clip-b2', 'inset-series-tau-i');
  drawSampled(i2, 0.1398, insetSampleSeconds, insetB2Yellow, x2, y2, YELLOW, 4.2, 'clip-b2', 'inset-series-tau-pi');
  drawLine(i2, insetB2RefTimes, insetB2RefValues, x2, y2, PURPLE, 4.5, 'clip-b2', 'inset-series-tau-ref');
  drawInsetAxes(i2, b2, x2, y2, insetB2XTicks, insetB2XLabels, insetB2YTicks, insetB2YLabels, 3487);
})();

/* Panels (c), (d), (e) */
function drawCurrentPanel(id, box, clipId, iqHi, iqLo, idHi, idLo, o) {
  const g = document.getElementById(id);
  const sx = linearScale(0, 0.3, box.l, box.r), sy = linearScale(-2, 4, box.b, box.t);
  drawEnvelope(g, iqHi, iqLo, sx, sy, ORANGE, o.stroke, clipId, 'series-iq', o.iqNotch[0], o.iqNotch[1]);
  drawEnvelope(g, idHi, idLo, sx, sy, BLUE, o.stroke, clipId, 'series-id', o.idNotch[0], o.idNotch[1]);
  drawFrame(g, box, sx, sy, timeTicks, timeTickLabels, currentTicks, currentTickLabels, o);
}
drawCurrentPanel('panel-c', {l: 337, r: 1623, t: 1498, b: 2300}, 'clip-c', currentCIqHi, currentCIqLo, currentCIdHi, currentCIdLo,
  {tick: 15, fs: 54, xBase: 2363, yRight: 323, stroke: 2, iqNotch: [0.07, 0.07], idNotch: [0.12, 0.12]});
drawCurrentPanel('panel-d', {l: 2516, r: 3802, t: 1498, b: 2300}, 'clip-d', currentDIqHi, currentDIqLo, currentDIdHi, currentDIdLo,
  {tick: 15, fs: 54, xBase: 2363, yRight: 2503, stroke: 2, iqNotch: [0.09, 0.07], idNotch: [0.06, 0.04]});
drawCurrentPanel('panel-e', {l: 1361, r: 2790, t: 2796, b: 3684}, 'clip-e', currentEIqHi, currentEIqLo, currentEIdHi, currentEIdLo,
  {tick: 18, fs: 60, xBase: 3755, yRight: 1345, stroke: 3, iqNotch: [0.04, 0.04], idNotch: [0.04, 0.04]});
</script>
</body>
</html>
